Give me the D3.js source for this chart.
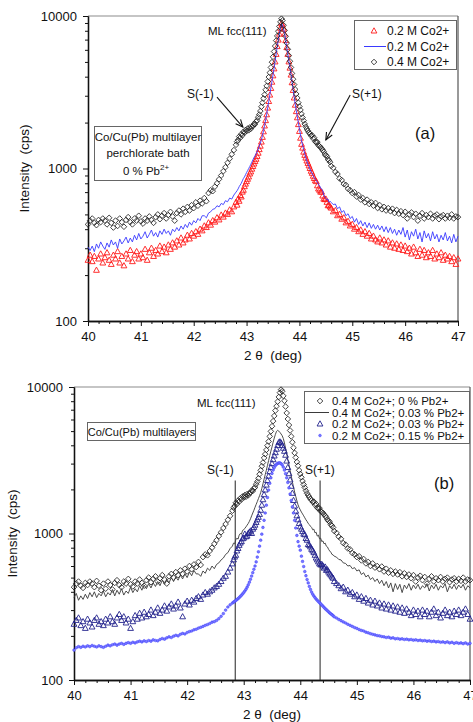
<!DOCTYPE html>
<html>
<head>
<meta charset="utf-8">
<script src="https://cdn.jsdelivr.net/npm/d3@7"></script>
<style>
  html, body { margin: 0; padding: 0; background: #fff; }
  svg { display: block; }
</style>
</head>
<body>
<svg id="chart" width="473" height="722"></svg>
<script>
// ---- 2θ scan grid: 0.04° steps on the wings, 0.02° across the (111) peak ----
const scanLeft = d3.range(40, 42.79, 0.04);     // 70 points
const scanMid = d3.range(42.8, 44.59, 0.02);    // 90 points
const scanRight = d3.range(44.6, 47.001, 0.04); // 61 points
const twoTheta = scanLeft.concat(scanMid, scanRight);

// ---- intensities (cps) ----
// 0.4 M Co2+, 0 % Pb2+ (open diamonds, both panels)
const co04_pb0 = [
  430,455,470,440,425,460,445,470,455,430, 475,440,410,455,420,470,445,415,460,480,
  445,430,470,455,490,450,435,470,455,485, 460,440,480,500,465,490,510,470,495,520,
  485,455,510,530,500,545,520,560,530,575, 550,600,570,615,590,640,610,690,720,710,
  760,800,850,900,960,1020,1090,1160,1240,1320,
  1430,1500,1540,1620,1590,1680,1650,1740,1710,1790, 1760,1830,1780,1860,1820,1880,1900,1960,1950,2030,
  2070,2170,2260,2380,2540,2700,2880,3050,3280,3480, 3720,3980,4250,4600,4980,5400,5850,6350,6900,7400,
  7950,8550,9150,9600,9350,8700,8050,7350,6650,6050, 5500,5050,4600,4200,3850,3550,3300,3080,2900,2700,
  2550,2420,2280,2160,2060,1960,1880,1820,1770,1720, 1690,1640,1650,1570,1590,1500,1480,1490,1420,1400,
  1380,1350,1320,1290,1240,1220,1200,1150,1130,1100,
  1040,1010,950,920,860,840,790,780,735,720, 690,700,655,670,625,640,600,625,585,600,
  570,595,550,575,540,560,530,550,525,545, 510,535,505,525,495,520,470,500,515,480,
  505,455,490,510,470,495,480,505,470,490, 500,465,485,495,470,490,475,500,470,485,
  480
];

// 0.2 M Co2+ (solid blue line, panel a)
const co02_line = [
  305,290,310,285,320,300,330,310,295,325, 305,340,315,330,300,345,320,335,355,325,
  350,330,365,340,375,345,360,385,350,370, 395,360,380,355,390,370,400,375,390,365,
  400,385,410,390,420,400,430,410,445,425, 455,440,470,455,490,490,475,510,520,540,
  545,570,560,590,580,615,605,640,630,670,
  700,715,735,760,780,800,830,860,880,910, 940,970,1000,1030,1065,1100,1140,1180,1210,1250,
  1290,1340,1400,1460,1540,1640,1770,1920,2080,2270, 2500,2760,3050,3380,3720,4100,4550,5050,5650,6300,
  6950,7600,8300,8900,8750,8250,7650,6950,6250,5650, 5050,4600,4150,3700,3300,2950,2650,2400,2200,2000,
  1820,1660,1520,1420,1330,1250,1180,1120,1070,1030, 990,955,930,900,870,850,835,810,790,770,
  750,730,720,670,650,640,625,630,600,610,
  600,580,585,545,560,515,530,490,505,470, 485,445,470,430,455,420,445,410,440,405,
  430,400,425,395,420,385,415,380,410,375, 400,365,395,370,410,355,395,340,385,360,
  400,345,380,330,390,350,375,335,385,345, 370,330,365,340,380,335,360,325,370,330,
  360
];

// 0.2 M Co2+ (open red triangles, panel a)
const co02_tri = [
  250,270,245,265,215,255,275,240,260,280, 250,235,270,255,285,240,265,230,275,255,
  290,245,270,285,255,275,260,295,250,280, 300,265,290,275,310,285,305,280,315,295,
  325,305,335,315,350,325,340,365,345,375, 360,385,370,400,390,420,410,440,425,455,
  445,475,460,495,480,510,500,535,520,560,
  600,575,630,610,665,650,700,720,760,790, 820,850,880,920,950,990,1030,1070,1110,1150,
  1200,1260,1330,1400,1490,1600,1740,1900,2060,2250, 2490,2750,3030,3350,3680,4050,4500,5000,5600,6300,
  6950,7600,8300,8900,8700,8200,7600,6900,6200,5600, 5000,4550,4100,3650,3250,2900,2600,2360,2150,1940,
  1750,1580,1440,1360,1280,1220,1170,1120,1080,1040, 1000,960,930,890,860,830,820,770,735,720,
  700,700,660,630,625,630,600,570,575,560,
  550,520,530,490,500,465,475,440,450,420, 430,400,410,385,395,370,385,360,375,345,
  360,340,330,350,325,340,315,335,305,325, 300,320,295,315,290,310,285,300,275,305,
  280,265,295,270,290,260,280,265,290,255, 275,260,280,250,270,255,265,245,260,235,
  255
];

// 0.4 M Co2+, 0.03 % Pb2+ (solid dark line, panel b)
const co04_pb003 = [
  365,390,350,375,355,385,360,395,370,400, 365,390,375,405,370,395,380,415,375,410,
  385,420,380,405,390,430,395,420,400,440, 410,445,420,455,425,460,435,470,440,480,
  450,490,460,500,470,505,480,520,490,530, 500,545,515,560,530,530,510,555,535,580,
  560,600,575,615,630,660,680,720,740,790,
  820,860,850,905,930,915,975,1000,990,1050, 1060,1085,1110,1140,1170,1210,1260,1320,1380,1440,
  1510,1580,1650,1730,1810,1900,2030,2180,2350,2520, 2700,2920,3150,3400,3650,3900,4200,4480,4750,4980,
  5060,5000,4900,4780,4650,4450,4150,3820,3500,3200, 2950,2700,2480,2260,2070,1920,1790,1670,1570,1500,
  1450,1400,1360,1320,1280,1240,1210,1170,1150,1120, 1100,1060,1070,1010,1020,960,975,920,930,880,
  890,850,860,820,810,780,760,745,720,715,
  700,690,665,660,630,625,600,605,575,585, 555,565,525,540,505,520,485,500,470,490,
  455,480,440,470,425,460,400,455,415,450, 395,445,420,455,410,445,420,450,415,440,
  425,455,405,445,420,450,410,440,425,455, 400,440,420,450,415,445,425,450,410,440,
  425
];

// 0.2 M Co2+, 0.03 % Pb2+ (open navy triangles, panel b)
const co02_pb003 = [
  240,255,265,235,250,225,260,245,230,255, 265,240,250,235,260,245,270,250,240,265,
  280,255,270,245,260,225,250,275,260,285, 265,290,270,280,300,275,290,310,285,300,
  320,295,315,330,305,320,340,310,270,330, 345,325,350,340,360,370,355,380,395,385,
  400,410,425,435,450,470,495,510,545,580,
  620,660,690,710,760,790,830,860,880,920, 930,990,950,960,1000,1020,1040,1000,1070,1100,
  1140,1190,1240,1290,1350,1440,1560,1700,1840,1980, 2140,2300,2460,2640,2820,3000,3190,3380,3560,3760,
  3980,4170,4220,4150,3980,3820,3640,3420,3120,2820, 2560,2320,2100,1880,1680,1540,1420,1320,1240,1170,
  1110,1070,1030,990,980,925,900,840,830,810, 780,760,740,710,680,660,640,620,610,615,
  600,580,590,560,565,545,530,520,505,495,
  470,455,440,420,430,400,410,385,395,370, 380,355,370,345,360,335,350,325,345,320,
  335,310,330,305,325,300,320,295,315,290, 310,285,305,290,275,300,280,295,270,300,
  280,295,270,290,305,275,290,265,285,300, 275,290,270,295,280,300,275,290,305,280,
  260
];

// 0.2 M Co2+, 0.15 % Pb2+ (small blue dots, panel b)
const co02_pb015 = [
  160,166,169,167,170,168,171,169,172,170, 168,171,169,167,170,173,171,174,176,173,
  176,178,175,178,180,178,181,179,182,184, 182,185,183,186,184,188,186,185,189,192,
  190,194,197,195,199,202,200,205,208,206, 211,214,216,220,222,226,229,232,236,239,
  243,248,250,255,262,272,284,300,315,326,
  335,340,344,349,354,359,365,372,379,387, 395,405,416,430,446,465,487,512,540,570,
  600,640,690,750,820,900,990,1100,1230,1380, 1560,1760,1980,2200,2400,2570,2710,2820,2910,2970,
  3010,3030,3030,3000,2940,2840,2710,2560,2400,2230, 2050,1860,1680,1520,1380,1230,1090,970,880,820,
  770,700,645,595,550,515,485,460,435,415, 398,385,374,365,357,350,343,337,331,325,
  319,313,307,302,297,292,287,283,279,275,
  270,265,259,254,249,245,240,236,232,228, 225,221,218,216,212,210,207,205,203,201,
  200,198,197,195,196,193,194,191,192,190, 191,189,190,188,189,187,188,186,187,185,
  186,184,185,183,184,182,183,181,182,180, 182,179,181,178,180,178,179,177,179,176,
  178
];

// ---- axes and labels ----
const xTicks = [40, 41, 42, 43, 44, 45, 46, 47];
const yTicks = [100, 1000, 10000];
const xTitle = "2 \u03b8  (deg)";
const yTitle = "Intensity  (cps)";
const legendA = ["0.2 M Co2+", "0.2 M Co2+", "0.4 M Co2+"];
const legendB = ["0.4 M Co2+; 0 % Pb2+", "0.4 M Co2+; 0.03 % Pb2+",
                 "0.2 M Co2+; 0.03 % Pb2+", "0.2 M Co2+; 0.15 % Pb2+"];
const satellitePos = [42.85, 44.35];   // S(-1), S(+1) in 2θ
const satelliteTop = 2300;             // upper end of the marker lines (cps)

const FONT = '"Liberation Sans", Arial, Helvetica, sans-serif';
const svg = d3.select("#chart").attr("font-family", FONT);

const zipped = arr => twoTheta.map((t, i) => [t, arr[i]]);

const diamondPath = "M0,-2.8L2.8,0L0,2.8L-2.8,0Z";
const trianglePath = "M0,-3.2L2.9,2L-2.9,2Z";

function makePanel(box, xPad, yTitleX) {
  const x = d3.scaleLinear().domain([40, 47]).range([box.left, box.right]);
  const y = d3.scaleLog().domain([100, 10000]).range([box.bottom, box.top]);
  const g = svg.append("g");

  // upper and right frame
  g.append("line").attr("x1", box.left).attr("x2", box.right)
    .attr("y1", box.top).attr("y2", box.top).attr("stroke", "#8c8c8c").attr("stroke-width", 1.2);
  g.append("line").attr("x1", box.right).attr("x2", box.right)
    .attr("y1", box.top).attr("y2", box.bottom).attr("stroke", "#555").attr("stroke-width", 1.2);

  const minorX = d3.range(40, 47.001, 0.2).filter(v => Math.abs(v - Math.round(v)) > 0.01);
  const minorY = [2, 3, 4, 5, 6, 7, 8, 9].flatMap(m => [m * 100, m * 1000]);

  const axes = [
    g.append("g").attr("transform", `translate(0,${box.bottom})`)
      .call(d3.axisBottom(x).tickValues(minorX).tickSize(3).tickSizeOuter(0).tickFormat("")),
    g.append("g").attr("transform", `translate(${box.left},0)`)
      .call(d3.axisLeft(y).tickValues(minorY).tickSize(3).tickSizeOuter(0).tickFormat("")),
    g.append("g").attr("transform", `translate(0,${box.bottom})`)
      .call(d3.axisBottom(x).tickValues(xTicks).tickSize(5).tickSizeOuter(0)
        .tickPadding(6).tickFormat(d3.format("d"))),
    g.append("g").attr("transform", `translate(${box.left},0)`)
      .call(d3.axisLeft(y).tickValues(yTicks).tickSize(5).tickSizeOuter(0)
        .tickPadding(xPad).tickFormat(d3.format("d")))
  ];
  axes.forEach(a => {
    a.attr("font-family", FONT).attr("font-size", 13).attr("color", "#111");
    a.select(".domain").attr("stroke-width", 1.3);
  });

  // axis titles
  g.append("text").attr("x", (box.left + box.right) / 2).attr("y", box.bottom + 39)
    .attr("text-anchor", "middle").attr("font-size", 13.5).attr("fill", "#111")
    .attr("xml:space", "preserve").text(xTitle);
  g.append("text")
    .attr("transform", `translate(${yTitleX},${(box.top + box.bottom) / 2}) rotate(-90)`)
    .attr("text-anchor", "middle").attr("font-size", 13.5).attr("fill", "#111")
    .attr("xml:space", "preserve").text(yTitle);

  return { x, y, g };
}

function drawArrow(g, x1, y1, x2, y2) {
  g.append("line").attr("x1", x1).attr("y1", y1).attr("x2", x2).attr("y2", y2)
    .attr("stroke", "#111").attr("stroke-width", 1.1);
  const a = Math.atan2(y2 - y1, x2 - x1), L = 8, s = 0.42;
  g.append("path")
    .attr("d", `M${x2 - L * Math.cos(a - s)},${y2 - L * Math.sin(a - s)}L${x2},${y2}` +
               `L${x2 - L * Math.cos(a + s)},${y2 - L * Math.sin(a + s)}`)
    .attr("fill", "none").attr("stroke", "#111").attr("stroke-width", 1.1);
}

// =================== panel (a) ===================
const A = makePanel({ left: 88, right: 458, top: 16, bottom: 321 }, 6, 29);

A.g.append("g").selectAll("path").data(zipped(co02_tri)).join("path")
  .attr("d", trianglePath)
  .attr("transform", d => `translate(${A.x(d[0])},${A.y(d[1])})`)
  .attr("fill", "none").attr("stroke", "#ff1a1a").attr("stroke-width", 0.9);

A.g.append("path").datum(zipped(co02_line))
  .attr("d", d3.line().x(d => A.x(d[0])).y(d => A.y(d[1])))
  .attr("fill", "none").attr("stroke", "#3a3aff").attr("stroke-width", 0.9);

A.g.append("g").selectAll("path").data(zipped(co04_pb0)).join("path")
  .attr("d", diamondPath)
  .attr("transform", d => `translate(${A.x(d[0])},${A.y(d[1])})`)
  .attr("fill", "none").attr("stroke", "#222").attr("stroke-width", 0.85);

// annotations
A.g.append("text").attr("x", 208).attr("y", 35).attr("font-size", 11.5).attr("fill", "#111").text("ML fcc(111)");
A.g.append("text").attr("x", 187).attr("y", 98).attr("font-size", 12).attr("fill", "#111").text("S(-1)");
A.g.append("text").attr("x", 352).attr("y", 98).attr("font-size", 12).attr("fill", "#111").text("S(+1)");
A.g.append("text").attr("x", 415).attr("y", 139).attr("font-size", 16.5).attr("fill", "#111").text("(a)");
drawArrow(A.g, A.x(42.44), A.y(2940), A.x(42.93), A.y(1870));
drawArrow(A.g, A.x(44.96), A.y(3030), A.x(44.50), A.y(1540));

// condition box
const boxA = A.g.append("g");
boxA.append("rect").attr("x", 94.5).attr("y", 126.5).attr("width", 107).attr("height", 54)
  .attr("fill", "#fff").attr("stroke", "#666").attr("stroke-width", 1);
boxA.append("text").attr("x", 148).attr("y", 141).attr("text-anchor", "middle")
  .attr("font-size", 11.5).attr("fill", "#111").text("Co/Cu(Pb) multilayer");
boxA.append("text").attr("x", 148).attr("y", 157).attr("text-anchor", "middle")
  .attr("font-size", 11.5).attr("fill", "#111").text("perchlorate bath");
const pbLine = boxA.append("text").attr("x", 146).attr("y", 175).attr("text-anchor", "middle")
  .attr("font-size", 11.5).attr("fill", "#111");
pbLine.append("tspan").text("0 % Pb");
pbLine.append("tspan").attr("dy", -5).attr("font-size", 8).text("2+");

// legend (a)
const legA = A.g.append("g");
legA.append("rect").attr("x", 354.5).attr("y", 20.5).attr("width", 102).attr("height", 49)
  .attr("fill", "#fff").attr("stroke", "#666").attr("stroke-width", 1);
const legAy = [31, 46.5, 62];
legA.append("path").attr("d", trianglePath).attr("transform", `translate(374,${legAy[0]})`)
  .attr("fill", "none").attr("stroke", "#ff1a1a").attr("stroke-width", 0.9);
legA.append("line").attr("x1", 364).attr("x2", 386).attr("y1", legAy[1]).attr("y2", legAy[1])
  .attr("stroke", "#3a3aff").attr("stroke-width", 1);
legA.append("path").attr("d", diamondPath).attr("transform", `translate(374,${legAy[2]})`)
  .attr("fill", "none").attr("stroke", "#222").attr("stroke-width", 0.85);
legA.selectAll("text.lab").data(legendA).join("text").attr("class", "lab")
  .attr("x", 387).attr("y", (d, i) => legAy[i] + 4.3)
  .attr("font-size", 12).attr("fill", "#111").text(d => d);

// =================== panel (b) ===================
const B = makePanel({ left: 74, right: 470, top: 387, bottom: 680 }, 6, 17);

// satellite marker lines
B.g.append("g").selectAll("line").data(satellitePos).join("line")
  .attr("x1", d => B.x(d)).attr("x2", d => B.x(d))
  .attr("y1", B.y(satelliteTop)).attr("y2", B.y(100))
  .attr("stroke", "#222").attr("stroke-width", 1);

B.g.append("g").selectAll("path").data(zipped(co04_pb0)).join("path")
  .attr("d", diamondPath)
  .attr("transform", d => `translate(${B.x(d[0])},${B.y(d[1])})`)
  .attr("fill", "none").attr("stroke", "#222").attr("stroke-width", 0.85);

B.g.append("path").datum(zipped(co04_pb003))
  .attr("d", d3.line().x(d => B.x(d[0])).y(d => B.y(d[1])))
  .attr("fill", "none").attr("stroke", "#3a3a3a").attr("stroke-width", 0.9);

B.g.append("g").selectAll("path").data(zipped(co02_pb003)).join("path")
  .attr("d", trianglePath)
  .attr("transform", d => `translate(${B.x(d[0])},${B.y(d[1])})`)
  .attr("fill", "none").attr("stroke", "#22228c").attr("stroke-width", 0.9);

B.g.append("g").selectAll("circle").data(zipped(co02_pb015)).join("circle")
  .attr("cx", d => B.x(d[0])).attr("cy", d => B.y(d[1])).attr("r", 1.35)
  .attr("fill", "#7a7aff").attr("stroke", "#3030ff").attr("stroke-width", 0.45);

// annotations
B.g.append("text").attr("x", 197).attr("y", 407).attr("font-size", 11.5).attr("fill", "#111").text("ML fcc(111)");
B.g.append("text").attr("x", 207).attr("y", 474).attr("font-size", 12).attr("fill", "#111").text("S(-1)");
B.g.append("text").attr("x", 305).attr("y", 474).attr("font-size", 12).attr("fill", "#111").text("S(+1)");
B.g.append("text").attr("x", 434).attr("y", 489).attr("font-size", 16.5).attr("fill", "#111").text("(b)");

const boxB = B.g.append("g");
boxB.append("rect").attr("x", 87.5).attr("y", 422.5).attr("width", 108).attr("height", 18)
  .attr("fill", "#fff").attr("stroke", "#666").attr("stroke-width", 1);
boxB.append("text").attr("x", 141.5).attr("y", 435.5).attr("text-anchor", "middle")
  .attr("font-size", 11).attr("fill", "#111").text("Co/Cu(Pb) multilayers");

// legend (b)
const legB = B.g.append("g");
legB.append("rect").attr("x", 304.5).attr("y", 391.5).attr("width", 165).attr("height", 52)
  .attr("fill", "#fff").attr("stroke", "#666").attr("stroke-width", 1);
const legBy = [401, 412.5, 424, 435.5];
legB.append("path").attr("d", diamondPath).attr("transform", `translate(320,${legBy[0]})`)
  .attr("fill", "none").attr("stroke", "#222").attr("stroke-width", 0.85);
legB.append("line").attr("x1", 305).attr("x2", 329).attr("y1", legBy[1]).attr("y2", legBy[1])
  .attr("stroke", "#3a3a3a").attr("stroke-width", 1);
legB.append("path").attr("d", trianglePath).attr("transform", `translate(320,${legBy[2]})`)
  .attr("fill", "none").attr("stroke", "#22228c").attr("stroke-width", 0.9);
legB.append("circle").attr("cx", 320).attr("cy", legBy[3]).attr("r", 1.35)
  .attr("fill", "#7a7aff").attr("stroke", "#3030ff").attr("stroke-width", 0.45);
legB.selectAll("text.lab").data(legendB).join("text").attr("class", "lab")
  .attr("x", 332).attr("y", (d, i) => legBy[i] + 4.2)
  .attr("font-size", 11.5).attr("fill", "#111").text(d => d);
</script>
</body>
</html>
